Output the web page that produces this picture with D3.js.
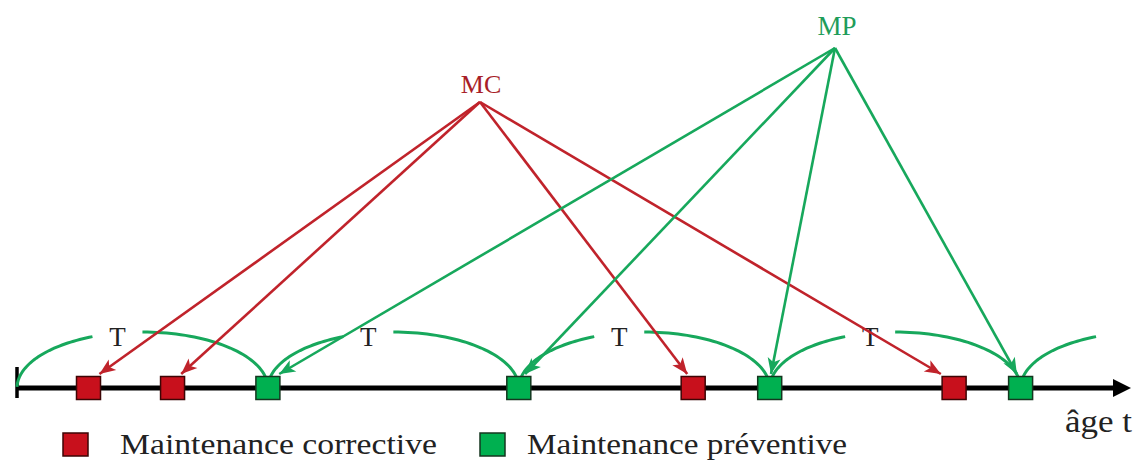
<!DOCTYPE html>
<html>
<head>
<meta charset="utf-8">
<script src="https://cdn.jsdelivr.net/npm/d3@7"></script>
<style>
  html, body { margin: 0; padding: 0; background: #ffffff; }
  svg { display: block; }
  text { font-family: "Liberation Serif", "Times New Roman", serif; }
</style>
</head>
<body>
<svg id="chart" width="1140" height="461"></svg>
<script>
// ---- data (ages in units of the preventive period T) ----
const preventive = [1, 2, 3, 4];                 // Maintenance préventive
const corrective = [0.285, 0.62, 2.695, 3.735];  // Maintenance corrective
const ageMax = 4.44;
const intervalLabel = "T";
const intervals = [0, 1, 2, 3, 4];               // start of each period T
const labelledIntervals = [0, 1, 2, 3];
const sourceLabels = ["MC", "MP"];
const legendLabels = ["Maintenance corrective", "Maintenance préventive"];
const axisLabel = "âge t";

// ---- layout ----
const W = 1140, H = 461;
const axisY = 388;
const RED = "#c8101c", RED_LINE = "#c0232b", RED_TEXT = "#a81e28";
const GREEN = "#00b050", GREEN_LINE = "#17a85c", GREEN_TEXT = "#1f9d5a";
const sq = {w: 24, h: 23};
const arcRy = 56, arcGap = 50;
const src = {MC: [480, 102], MP: [835, 48]};

const svg = d3.select("#chart");
svg.append("rect").attr("width", W).attr("height", H).attr("fill", "#fff");

const x = d3.scaleLinear().domain([0, ageMax]).range([17, 1131]);

// markers
const defs = svg.append("defs");
[["mRed", RED_LINE], ["mGreen", GREEN_LINE]].forEach(([id, c]) => {
  defs.append("marker")
    .attr("id", id).attr("markerUnits", "userSpaceOnUse")
    .attr("viewBox", "-17 -8 18 16").attr("refX", 0).attr("refY", 0)
    .attr("markerWidth", 18).attr("markerHeight", 16).attr("orient", "auto")
    .append("path").attr("d", "M0,0 L-16,-6.5 L-12,0 L-16,6.5 Z").attr("fill", c);
});

// axis
const xEnd = x(ageMax);
svg.append("line").attr("x1", x(0)).attr("x2", xEnd - 14)
  .attr("y1", axisY).attr("y2", axisY).attr("stroke", "#000").attr("stroke-width", 5);
svg.append("path")
  .attr("d", d3.line()([[xEnd - 18, axisY - 9], [xEnd, axisY], [xEnd - 18, axisY + 9]]))
  .attr("fill", "#000");
svg.append("line").attr("x1", x(0)).attr("x2", x(0))
  .attr("y1", axisY - 21).attr("y2", axisY + 10)
  .attr("stroke", "#000").attr("stroke-width", 3.5);
svg.append("text").attr("x", 1065).attr("y", 432)
  .attr("font-size", 31).attr("textLength", 67).attr("lengthAdjust", "spacingAndGlyphs")
  .attr("fill", "#222").text(axisLabel);

// green period arcs (half ellipses between consecutive preventive actions)
const lineGen = d3.line().curve(d3.curveLinear);
function arcPts(k, t0, t1) {
  const a = x(k), b = x(k + 1), cx = (a + b) / 2, rx = (b - a) / 2;
  const pts = [];
  for (let i = 0; i <= 40; i++) {
    const th = t0 + (t1 - t0) * i / 40;
    pts.push([cx - rx * Math.cos(th), axisY - arcRy * Math.sin(th)]);
  }
  return pts;
}
const arcs = svg.append("g").attr("fill", "none").attr("stroke", GREEN_LINE).attr("stroke-width", 3);
intervals.forEach(k => {
  const rx = (x(k + 1) - x(k)) / 2;
  const th1 = Math.acos(arcGap / rx);
  arcs.append("path").attr("d", lineGen(arcPts(k, 0.02, th1)));
  if (labelledIntervals.includes(k)) {
    arcs.append("path").attr("d", lineGen(arcPts(k, Math.PI / 2, Math.PI - 0.02)));
  }
});
svg.append("g").selectAll("text").data(labelledIntervals).join("text")
  .attr("x", k => (x(k) + x(k + 1)) / 2 - 25).attr("y", 346)
  .attr("text-anchor", "middle").attr("font-size", 27).attr("fill", "#222")
  .text(intervalLabel);

// squares
function squares(vals, fill, stroke) {
  svg.append("g").selectAll("rect").data(vals).join("rect")
    .attr("x", v => x(v) - sq.w / 2).attr("y", axisY - sq.h / 2)
    .attr("width", sq.w).attr("height", sq.h)
    .attr("fill", fill).attr("stroke", stroke).attr("stroke-width", 1.5);
}
squares(corrective, RED, "#3d0505");
squares(preventive, GREEN, "#14361f");

// arrows from MC / MP
function arrows(vals, s, color, marker, k) {
  svg.append("g").selectAll("line").data(vals).join("line")
    .attr("x1", s[0]).attr("y1", s[1])
    .attr("x2", v => x(v) - k * (x(v) - s[0])).attr("y2", axisY - 14)
    .attr("stroke", color).attr("stroke-width", 2.6)
    .attr("marker-end", `url(#${marker})`);
}
arrows(corrective, src.MC, RED_LINE, "mRed", 0.028);
arrows(preventive, src.MP, GREEN_LINE, "mGreen", 0.02);

svg.append("text").attr("x", 481).attr("y", 93).attr("text-anchor", "middle")
  .attr("font-size", 26).attr("fill", RED_TEXT).text(sourceLabels[0]);
svg.append("text").attr("x", 837).attr("y", 35).attr("text-anchor", "middle")
  .attr("font-size", 27).attr("fill", GREEN_TEXT).text(sourceLabels[1]);

// legend
const legend = [
  {label: legendLabels[0], fill: RED, stroke: "#3d0505", sx: 63, tx: 120, tw: 317},
  {label: legendLabels[1], fill: GREEN, stroke: "#14361f", sx: 480, tx: 527, tw: 320}
];
const lg = svg.append("g").selectAll("g").data(legend).join("g");
lg.append("rect").attr("x", d => d.sx).attr("y", 433).attr("width", 25).attr("height", 23)
  .attr("fill", d => d.fill).attr("stroke", d => d.stroke).attr("stroke-width", 1.5);
lg.append("text").attr("x", d => d.tx).attr("y", 454).attr("font-size", 29)
  .attr("textLength", d => d.tw).attr("lengthAdjust", "spacingAndGlyphs")
  .attr("fill", "#222").text(d => d.label);
</script>
</body>
</html>
